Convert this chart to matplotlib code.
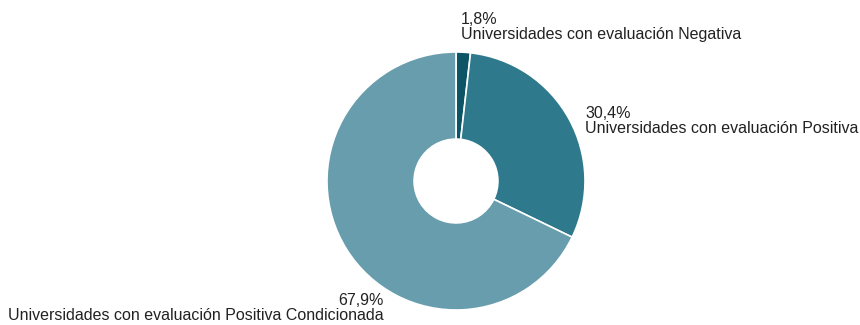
import matplotlib
matplotlib.use("Agg")
import matplotlib.pyplot as plt

# datos
categorias = ["Universidades con evaluación Negativa",
              "Universidades con evaluación Positiva",
              "Universidades con evaluación Positiva Condicionada"]
valores = [1.8, 30.4, 67.9]
etiquetas = ["1,8%", "30,4%", "67,9%"]
colores = ["#0b5566", "#2e798c", "#679dac"]

W, H = 860, 325
plt.rcParams["font.family"] = ["Liberation Sans", "DejaVu Sans"]

fig = plt.figure(figsize=(W / 100, H / 100), dpi=100)

# donut: centro (456, 181) px, radio 129 px
cx, cy, r = 456, 181, 129
ax = fig.add_axes([(cx - r) / W, 1 - (cy + r) / H, 2 * r / W, 2 * r / H])
ax.pie(valores, colors=colores, startangle=90, counterclock=False,
       wedgeprops=dict(width=0.675, edgecolor="white", linewidth=1.2))
ax.set_xlim(-1, 1)
ax.set_ylim(-1, 1)
ax.set_aspect("equal")
ax.axis("off")

# posiciones de las etiquetas (px: x, y superior, alineación)
pos = [(461, 12, "left"), (585, 106, "left"), (384, 293, "right")]
for cat, et, (x, y, ha) in zip(categorias, etiquetas, pos):
    fig.text(x / W, 1 - y / H, et + "\n" + cat, ha=ha, va="top",
             fontsize=11.5, color="#222222", linespacing=1.0,
             multialignment=ha)

fig.savefig("out.png", dpi=100)
